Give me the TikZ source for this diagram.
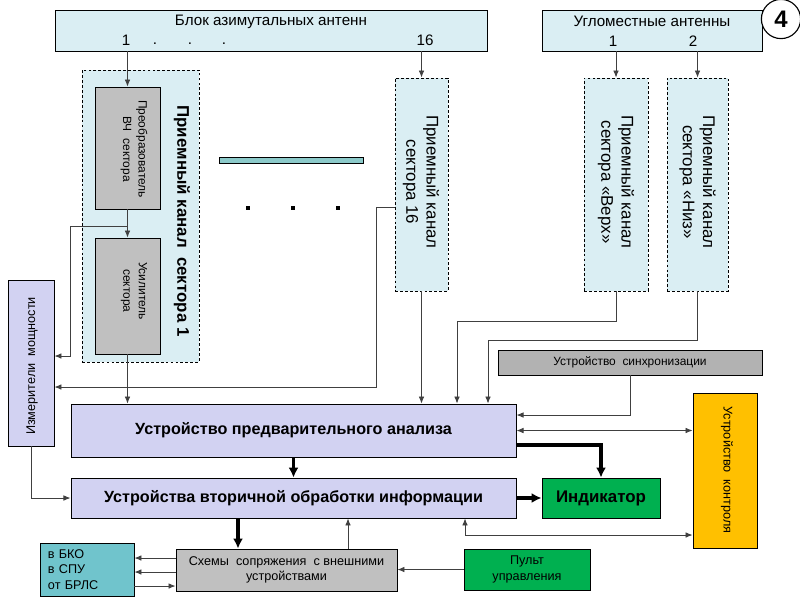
\documentclass[tikz,border=0pt]{standalone}
\usepackage{fontspec}
\setmainfont{Liberation Sans}
\usetikzlibrary{arrows.meta}
\usetikzlibrary{calc}

\definecolor{antcyan}{HTML}{DAEEF3}
\definecolor{blocklav}{HTML}{D2D2F2}
\definecolor{blockgray}{HTML}{C0C0C0}
\definecolor{syncgray}{HTML}{B2B2B2}
\definecolor{indgreen}{HTML}{00B050}
\definecolor{ctrlorange}{HTML}{FFC000}
\definecolor{extteal}{HTML}{70C4CC}
\definecolor{barteal}{HTML}{8CCACA}
\definecolor{wirecol}{HTML}{404040}

\tikzset{
	blk/.style={draw, inner sep=0pt, line width=0.6pt},
	chan/.style={draw, dash pattern=on 2pt off 1.5pt, line width=0.6pt, fill=antcyan, inner sep=0pt},
	wire/.style={draw=wirecol, line width=0.6pt, -{Latex[length=5pt,width=4pt]}},
	bus/.style={line width=2.2pt, -{Latex[length=7pt,width=7pt]}},
	small/.style={font=\fontsize{8.5}{11}\selectfont},
	big/.style={font=\fontsize{11.5}{14}\selectfont\bfseries},
}

\begin{document}
\begin{tikzpicture}[x=0.025cm, y=-0.025cm, font=\fontsize{10.8}{12}\selectfont]
	\useasboundingbox (0,0) rectangle (800,600);

	\node[blk, fill=antcyan, minimum width=10.8cm, minimum height=1.025cm] (az) at (271,30.5) {};
	\node (aztitle) at (271,22) {Блок азимутальных антенн};
	\node (az1) at (126,40) {1};
	\node (az16) at (425,40) {16};
	\foreach \x [count=\i] in {155,190,224}
		\node[inner sep=0pt] (azdot\i) at (\x,44) {.};

	\node[blk, fill=antcyan, minimum width=5.5cm, minimum height=1.025cm] (el) at (652,30.5) {};
	\node (eltitle) at (652,21) {Угломестные антенны};
	\node (el1) at (613,41) {1};
	\node (el2) at (693,41) {2};

	\node[draw, circle, line width=0.8pt, fill=white, minimum size=0.98cm, inner sep=0pt, font=\fontsize{17}{20}\selectfont\bfseries] (num) at (781,19) {4};

	\node[chan, minimum width=2.925cm, minimum height=7.3cm] (ch1) at (140.5,216) {};
	\node[rotate=-90, font=\fontsize{12}{14}\selectfont\bfseries] (ch1txt) at (182,221) {Приемный канал\ \ сектора 1};
	\node[blk, fill=blockgray, minimum width=1.625cm, minimum height=3.05cm] (conv) at (127.5,148) {};
	\node[rotate=-90, align=center, small] (convtxt) at (134,149) {Преобразователь\\ВЧ\ \ сектора};
	\node[blk, fill=blockgray, minimum width=1.625cm, minimum height=2.9cm] (amp) at (127.5,296) {};
	\node[rotate=-90, align=center, small] (amptxt) at (134,291) {Усилитель\\сектора};

	\node[blk, fill=barteal, minimum width=3.6cm, minimum height=0.15cm] (bar) at (291,160) {};
	\foreach \x [count=\i] in {248,293,338}
		\node[fill=black, inner sep=0pt, minimum size=0.1cm] (dot\i) at (\x,208) {};

	\node[chan, minimum width=1.325cm, minimum height=5.325cm] (ch16) at (421.5,184.5) {};
	\node[rotate=-90, align=center, font=\fontsize{12}{14.5}\selectfont] (ch16txt) at (421,182) {Приемный канал\\сектора 16};
	\node[chan, minimum width=1.6cm, minimum height=5.325cm] (chU) at (616,184.5) {};
	\node[rotate=-90, align=center, font=\fontsize{12}{14.5}\selectfont] (chUtxt) at (616,182) {Приемный канал\\сектора «Верх»};
	\node[chan, minimum width=1.525cm, minimum height=5.325cm] (chD) at (697.5,184.5) {};
	\node[rotate=-90, align=center, font=\fontsize{12}{14.5}\selectfont] (chDtxt) at (697.5,182) {Приемный канал\\сектора «Низ»};

	\node[blk, fill=syncgray, minimum width=6.6cm, minimum height=0.625cm, small] (sync) at (630,362.5) {Устройство\ \ синхронизации};
	\node[blk, fill=blocklav, minimum width=1.15cm, minimum height=4.15cm] (meas) at (31,363) {};
	\node[rotate=90, font=\fontsize{9}{11}\selectfont] (meastxt) at (32,366) {Измерители\ \ мощности};

	\node[blk, fill=blocklav, minimum width=11.125cm, minimum height=1.325cm, big] (ana) at (293.5,430.5) {Устройство предварительного анализа};
	\node[blk, fill=blocklav, minimum width=11.125cm, minimum height=1cm, big] (sec) at (293.5,498) {Устройства вторичной обработки информации};
	\node[blk, fill=indgreen, minimum width=2.95cm, minimum height=1cm, font=\fontsize{12}{14}\selectfont\bfseries] (ind) at (601,498) {Индикатор};
	\node[blk, fill=ctrlorange, minimum width=1.6cm, minimum height=3.875cm] (ctrl) at (725,470.5) {};
	\node[rotate=-90, font=\fontsize{9}{11}\selectfont] (ctrltxt) at (727,470) {Устройство\ \ контроля};

	\node[blk, fill=blockgray, minimum width=5.525cm, minimum height=1.05cm, align=center, font=\fontsize{9}{10.7}\selectfont] (iface) at (286.5,570) {Схемы\ \ сопряжения\ \ с внешними\\устройствами};
	\node[blk, fill=extteal, text width=1.95cm, inner xsep=0.2cm, minimum height=1.325cm, align=left, font=\fontsize{9}{11}\selectfont] (ext) at (87,569.5) {в БКО\\в СПУ\\от БРЛС};
	\node[blk, fill=indgreen, minimum width=3.15cm, minimum height=1.025cm, align=center, font=\fontsize{9}{12}\selectfont] (pult) at (527,569.5) {Пульт\\управления};

	\coordinate (br1) at (127.5,226);

	\draw[wire] (conv.north |- az.south) -- (conv.north);
	\draw[wire] (conv.south) -- (amp.north);
	\draw[wire] (br1) -| (70,356) -- (meas.east |- 0,356);
	\draw[wire] (amp.south) -- (amp.south |- ana.north);
	\draw[wire] (ch16.north |- az.south) -- (ch16.north);
	\draw[wire] (ch16.west |- 0,207) -| (376,387) -- (meas.east |- 0,387);
	\draw[wire] (ch16.south) -- (ch16.south |- ana.north);
	\draw[wire] (chU.north |- el.south) -- (chU.north);
	\draw[wire] (chD.north |- el.south) -- (chD.north);
	\draw[wire] (chU.south) -- ++(0,30) -| (ana.north -| 457,0);
	\draw[wire] (chD.south) -- ++(0,49) -| (ana.north -| 488,0);
	\draw[wire] (sync.south) |- (ana.east |- 0,415);
	\draw[wire, {Latex[length=5pt,width=4pt]}-{Latex[length=5pt,width=4pt]}] (ana.east) -- (ctrl.west |- ana.east);
	\draw[bus] (ana.east |- 0,445) -| (ind.north);
	\draw[bus] (ana.south) -- (sec.north);
	\draw[bus] (sec.east) -- (ind.west);
	\draw[wire, {Latex[length=5pt,width=4pt]}-{Latex[length=5pt,width=4pt]}] (ctrl.west |- 0,535) -| (sec.south -| 465,0);
	\draw[wire] (meas.south) |- (sec.west);
	\draw[bus] (sec.south -| 238,0) -- (iface.north -| 238,0);
	\draw[wire] (iface.north -| 348,0) -- (sec.south -| 348,0);
	\draw[wire] (iface.west |- 0,558) -- (ext.east |- 0,558);
	\draw[wire] (iface.west |- 0,572) -- (ext.east |- 0,572);
	\draw[wire] (ext.east |- 0,586) -- (iface.west |- 0,586);
	\draw[wire] (pult.west) -- (iface.east |- pult.west);
\end{tikzpicture}
\end{document}
